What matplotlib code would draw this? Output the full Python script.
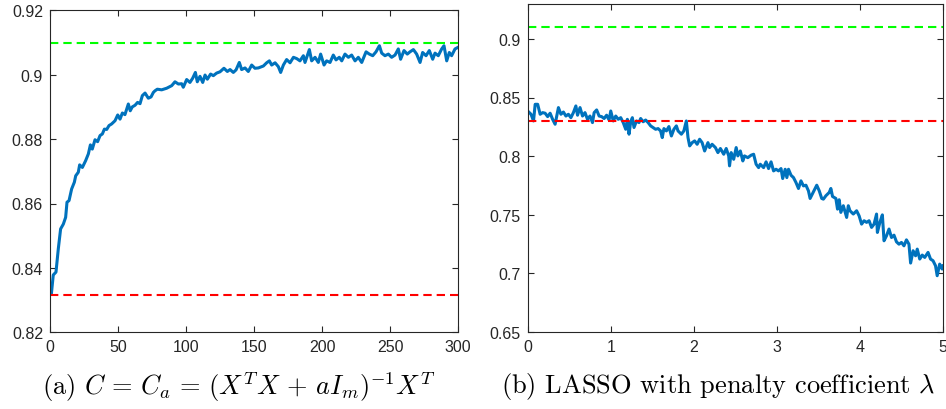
import matplotlib
matplotlib.use('Agg')
import matplotlib.pyplot as plt

# (a) ridge-type C_a, accuracy vs a
a_x = [1, 2.4, 4.4, 6.1, 7.8, 9.8, 11.5, 12.5, 14, 15.9, 17.9, 18.9, 20.8, 21.8, 23.8, 26.2, 28.2, 29.7,
       31.1, 33.1, 35, 36.8, 38.5, 40, 41.7, 43.4, 45.3, 47.8, 49.8, 51.5, 53.2, 55.1, 56.4, 57.6, 59,
       60.5, 62.5, 64.4, 66.2, 67.9, 69.9, 72.3, 74.3, 76, 77.2, 78.9, 82.1, 85.8, 89.5, 91.9, 94.4,
       96.8, 98, 100.5, 102.9, 104.9, 106.9, 108.3, 110.3, 112.3, 114, 115.7, 118.1, 120.1, 122.5, 125,
       127.9, 130.4, 132.4, 134.8, 136.8, 139.2, 140.9, 143.4, 145.8, 148.3, 150.7, 153.2, 156.9, 159.3,
       161.3, 163, 165.5, 167.9, 169.6, 171.6, 174, 176.5, 179, 181.4, 183.8, 186.3, 187.5, 190.7, 192.4,
       194.9, 197.3, 199, 201.5, 203.4, 205.9, 208.3, 210.3, 212.7, 214.5, 216.9, 219.4, 221.8, 224.3,
       226.7, 229.2, 232.4, 234.8, 237.3, 239.7, 242.2, 243.9, 246.3, 248.8, 251.2, 253.7, 256.1, 257.8,
       260.3, 262.7, 264.7, 267.2, 269.6, 272.1, 274, 276.5, 278.9, 281.4, 283.1, 285.5, 288, 289.7,
       291.7, 293.6, 295.3, 297.8, 300]
a_acc = [0.8319, 0.8378, 0.8387, 0.8459, 0.8521, 0.8536, 0.8557, 0.8604, 0.8609, 0.8645, 0.8666, 0.8686,
         0.8697, 0.8720, 0.8712, 0.8733, 0.8754, 0.8782, 0.8769, 0.8798, 0.8792, 0.8811, 0.8816, 0.8831,
         0.8830, 0.8842, 0.8847, 0.8857, 0.8875, 0.8862, 0.8881, 0.8876, 0.8893, 0.8909, 0.8888, 0.8900,
         0.8905, 0.8914, 0.8910, 0.8935, 0.8943, 0.8927, 0.8931, 0.8945, 0.8950, 0.8955, 0.8953, 0.8958,
         0.8966, 0.8978, 0.8971, 0.8972, 0.8961, 0.8985, 0.8976, 0.8989, 0.9007, 0.8978, 0.8995, 0.8976,
         0.8999, 0.8986, 0.9002, 0.8997, 0.9005, 0.9009, 0.9020, 0.9010, 0.9016, 0.9007, 0.9015, 0.9038,
         0.9016, 0.9021, 0.9010, 0.9030, 0.9020, 0.9021, 0.9027, 0.9037, 0.9043, 0.9030, 0.9037, 0.9025,
         0.9007, 0.9030, 0.9047, 0.9037, 0.9054, 0.9050, 0.9043, 0.9059, 0.9038, 0.9078, 0.9043, 0.9054,
         0.9038, 0.9064, 0.9030, 0.9043, 0.9038, 0.9061, 0.9046, 0.9054, 0.9043, 0.9064, 0.9054, 0.9061,
         0.9043, 0.9054, 0.9038, 0.9071, 0.9064, 0.9059, 0.9071, 0.9090, 0.9067, 0.9059, 0.9064, 0.9054,
         0.9061, 0.9080, 0.9048, 0.9075, 0.9064, 0.9071, 0.9078, 0.9064, 0.9038, 0.9069, 0.9059, 0.9075,
         0.9048, 0.9067, 0.9059, 0.9080, 0.9090, 0.9043, 0.9069, 0.9059, 0.9080, 0.9085]
a_upper = 0.9097
a_lower = 0.8315

# (b) LASSO, accuracy vs lambda
b_x = [0.0, 0.04, 0.07, 0.09, 0.12, 0.15, 0.18, 0.21, 0.24, 0.27, 0.30, 0.33, 0.35, 0.37, 0.40, 0.43, 0.46,
       0.49, 0.52, 0.55, 0.58, 0.60, 0.63, 0.66, 0.69, 0.72, 0.75, 0.78, 0.80, 0.83, 0.86, 0.89, 0.92, 0.95,
       0.98, 1.00, 1.03, 1.06, 1.09, 1.12, 1.15, 1.18, 1.20, 1.22, 1.24, 1.26, 1.28, 1.31, 1.34, 1.36, 1.39,
       1.42, 1.45, 1.48, 1.51, 1.54, 1.57, 1.60, 1.62, 1.64, 1.67, 1.70, 1.73, 1.76, 1.79, 1.81, 1.85, 1.88,
       1.91, 1.93, 1.95, 1.98, 2.01, 2.04, 2.07, 2.10, 2.13, 2.17, 2.19, 2.22, 2.26, 2.29, 2.32, 2.36, 2.39,
       2.42, 2.43, 2.45, 2.48, 2.51, 2.53, 2.56, 2.59, 2.61, 2.65, 2.69, 2.72, 2.75, 2.78, 2.80, 2.84, 2.87,
       2.90, 2.93, 2.96, 2.99, 3.02, 3.05, 3.07, 3.10, 3.12, 3.14, 3.17, 3.20, 3.23, 3.26, 3.29, 3.32, 3.35,
       3.38, 3.40, 3.44, 3.48, 3.51, 3.54, 3.56, 3.59, 3.63, 3.65, 3.67, 3.71, 3.73, 3.75, 3.77, 3.80, 3.84,
       3.86, 3.88, 3.92, 3.96, 3.99, 4.02, 4.05, 4.08, 4.11, 4.14, 4.17, 4.20, 4.21, 4.24, 4.27, 4.29, 4.32,
       4.35, 4.38, 4.41, 4.44, 4.47, 4.50, 4.53, 4.56, 4.59, 4.61, 4.64, 4.67, 4.69, 4.72, 4.75, 4.78, 4.82,
       4.85, 4.88, 4.91, 4.93, 4.96, 4.99, 5.00]
b_acc = [0.8385, 0.8357, 0.8300, 0.8442, 0.8442, 0.8357, 0.8371, 0.8366, 0.8337, 0.8366, 0.8314, 0.8272,
         0.8342, 0.8414, 0.8357, 0.8376, 0.8342, 0.8357, 0.8328, 0.8371, 0.8428, 0.8349, 0.8414, 0.8342,
         0.8371, 0.8314, 0.8342, 0.8286, 0.8371, 0.8394, 0.8342, 0.8337, 0.8321, 0.8349, 0.8308, 0.8385,
         0.8300, 0.8342, 0.8314, 0.8328, 0.8286, 0.8229, 0.8314, 0.8187, 0.8293, 0.8328, 0.8244, 0.8300,
         0.8286, 0.8321, 0.8293, 0.8308, 0.8286, 0.8258, 0.8244, 0.8229, 0.8235, 0.8215, 0.8158, 0.8235,
         0.8215, 0.8252, 0.8172, 0.8229, 0.8258, 0.8215, 0.8187, 0.8215, 0.8300, 0.8158, 0.8087, 0.8115,
         0.8130, 0.8101, 0.8144, 0.8115, 0.8044, 0.8115, 0.8073, 0.8101, 0.8073, 0.8030, 0.8065, 0.8016,
         0.8065, 0.8002, 0.7917, 0.8030, 0.7973, 0.8073, 0.8002, 0.8044, 0.7959, 0.8002, 0.7987, 0.8008,
         0.8016, 0.7931, 0.7902, 0.7931, 0.7902, 0.7951, 0.7894, 0.7951, 0.7874, 0.7888, 0.7874, 0.7894,
         0.7809, 0.7888, 0.7817, 0.7888, 0.7837, 0.7817, 0.7775, 0.7724, 0.7789, 0.7746, 0.7752, 0.7704,
         0.7639, 0.7696, 0.7752, 0.7704, 0.7639, 0.7633, 0.7662, 0.7690, 0.7724, 0.7656, 0.7639, 0.7548,
         0.7628, 0.7520, 0.7577, 0.7477, 0.7577, 0.7534, 0.7506, 0.7534, 0.7491, 0.7420, 0.7449, 0.7435,
         0.7449, 0.7392, 0.7420, 0.7506, 0.7349, 0.7435, 0.7499, 0.7278, 0.7321, 0.7378, 0.7306, 0.7326,
         0.7269, 0.7249, 0.7264, 0.7235, 0.7286, 0.7249, 0.7088, 0.7193, 0.7150, 0.7207, 0.7122, 0.7156,
         0.7136, 0.7179, 0.7122, 0.7108, 0.7065, 0.6980, 0.7079, 0.7037, 0.7065]
b_upper = 0.91
b_lower = 0.83

a_xticks = [0, 50, 100, 150, 200, 250, 300]
a_yticks = [0.82, 0.84, 0.86, 0.88, 0.9, 0.92]
a_ylabels = ['0.82', '0.84', '0.86', '0.88', '0.9', '0.92']
b_xticks = [0, 1, 2, 3, 4, 5]
b_yticks = [0.65, 0.7, 0.75, 0.8, 0.85, 0.9]
b_ylabels = ['0.65', '0.7', '0.75', '0.8', '0.85', '0.9']

plt.rcParams['font.family'] = ['Liberation Sans', 'DejaVu Sans']
plt.rcParams['mathtext.fontset'] = 'cm'

blue = '#0072BD'
dash = (0, (4, 2.4))

fig = plt.figure(figsize=(9.46, 4.10), dpi=100)
ax1 = fig.add_axes([50/946, 1-333.3/410, 408/946, 322/410])
ax2 = fig.add_axes([527.7/946, 1-333/410, 415.3/946, 328.3/410])


def style(ax):
    for s in ax.spines.values():
        s.set_color('0.15')
        s.set_linewidth(0.8)
    ax.tick_params(direction='in', top=True, right=True, length=4, width=0.8,
                   color='0.15', labelcolor='0.15', labelsize=11.5, pad=5)


ax1.plot(a_x, a_acc, color=blue, lw=2.2)
ax1.axhline(a_upper, color='#00FF00', lw=1.5, ls=dash)
ax1.axhline(a_lower, color='#FF0000', lw=1.5, ls=dash)
ax1.set_xlim(0, 300)
ax1.set_ylim(0.82, 0.92)
ax1.set_xticks(a_xticks)
ax1.set_yticks(a_yticks)
ax1.set_yticklabels(a_ylabels)
style(ax1)

ax2.plot(b_x, b_acc, color=blue, lw=2.2)
ax2.axhline(b_upper, color='#00FF00', lw=1.5, ls=dash)
ax2.axhline(b_lower, color='#FF0000', lw=1.5, ls=dash)
ax2.set_xlim(0, 5)
ax2.set_ylim(0.65, 0.93)
ax2.set_xticks(b_xticks)
ax2.set_yticks(b_yticks)
ax2.set_yticklabels(b_ylabels)
style(ax2)

fig.text(238.5/946, 1-387/410, r'(a) $C\,=\,C_a\,=\,(X^TX\,+\,aI_m)^{-1}X^T$', family='cmr10',
         fontsize=19, ha='center', va='center')
fig.text(718.5/946, 1-387/410, r'(b) LASSO with penalty coefficient $\lambda$', family='cmr10',
         fontsize=19, ha='center', va='center')

fig.savefig('out.png', dpi=100)
